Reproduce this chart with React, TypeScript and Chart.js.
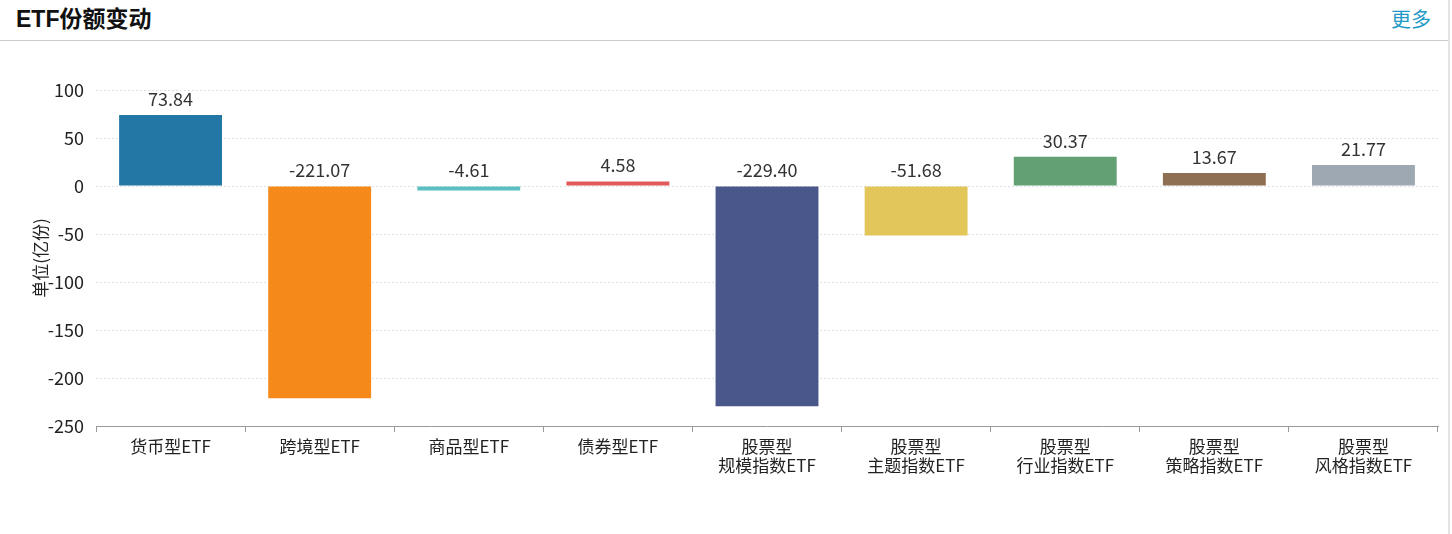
import React, { useEffect, useRef } from "react";
import { Chart, registerables } from "chart.js";

Chart.register(...registerables);

const categories: (string | string[])[] = [
  "货币型ETF",
  "跨境型ETF",
  "商品型ETF",
  "债券型ETF",
  ["股票型", "规模指数ETF"],
  ["股票型", "主题指数ETF"],
  ["股票型", "行业指数ETF"],
  ["股票型", "策略指数ETF"],
  ["股票型", "风格指数ETF"],
];
const values: number[] = [73.84, -221.07, -4.61, 4.58, -229.4, -51.68, 30.37, 13.67, 21.77];
const barColors: string[] = [
  "#2277a4",
  "#f5891a",
  "#5bbfc2",
  "#e05a5a",
  "#4a578a",
  "#e3c65a",
  "#63a174",
  "#8f6f54",
  "#9ea8b3",
];
const yMin = -250;
const yMax = 100;
const yStep = 50;
const yTitle = "单位(亿份)";
const titleText = "ETF份额变动";
const moreText = "更多";

const FONT = "'Noto Sans CJK SC', 'Microsoft YaHei', sans-serif";
const TITLE_FONT = "'Liberation Sans', 'Noto Sans CJK SC', sans-serif";

const valueLabelPlugin = {
  id: "valueLabels",
  afterDatasetsDraw(chart: any) {
    const ctx = chart.ctx;
    const meta = chart.getDatasetMeta(0);
    const base = chart.scales.y.getPixelForValue(0);
    ctx.save();
    ctx.font = `18px ${FONT}`;
    ctx.fillStyle = "#333";
    ctx.textAlign = "center";
    ctx.textBaseline = "middle";
    meta.data.forEach((bar: any, i: number) => {
      const top = Math.min(bar.y, base);
      ctx.fillText(values[i].toFixed(2), bar.x, top - 16);
    });
    ctx.restore();
  },
};

export default function App() {
  const canvasRef = useRef<HTMLCanvasElement>(null);

  useEffect(() => {
    const canvas = canvasRef.current;
    if (!canvas) return;
    const chart = new Chart(canvas, {
      type: "bar",
      data: {
        labels: categories,
        datasets: [
          {
            data: values,
            backgroundColor: barColors,
            borderWidth: 0,
            barPercentage: 0.69,
            categoryPercentage: 1,
          },
        ],
      },
      options: {
        responsive: false,
        animation: false,
        layout: { padding: { top: 48, right: 14, bottom: 0, left: 0 } },
        plugins: {
          legend: { display: false },
          tooltip: { enabled: false },
        },
        scales: {
          x: {
            offset: true,
            grid: {
              offset: true,
              drawOnChartArea: false,
              drawTicks: true,
              tickLength: 6,
              color: "#999",
            },
            border: { display: true, color: "#999", width: 1 },
            ticks: {
              color: "#222",
              padding: 5,
              maxRotation: 0,
              autoSkip: false,
              font: { size: 17, family: FONT, lineHeight: 1.13 },
            },
            afterFit(scale: any) {
              scale.height = 108;
            },
          },
          y: {
            min: yMin,
            max: yMax,
            ticks: {
              stepSize: yStep,
              color: "#222",
              padding: 12,
              font: { size: 18, family: FONT },
            },
            grid: {
              drawTicks: false,
              color: "#dde1e8",
              lineWidth: 1,
            },
            border: { display: false, dash: [2, 2] },
            title: {
              display: true,
              text: yTitle,
              color: "#222",
              font: { size: 17, family: FONT },
              padding: { top: 30, bottom: 4 },
            },
            afterFit(scale: any) {
              scale.width = 96;
            },
          },
        },
      },
      plugins: [valueLabelPlugin],
    });
    return () => chart.destroy();
  }, []);

  return (
    <div
      style={{
        position: "fixed",
        left: 0,
        top: 0,
        width: 1452,
        height: 534,
        background: "#fff",
        overflow: "hidden",
        fontFamily: FONT,
      }}
    >
      <div
        style={{
          position: "absolute",
          left: 16,
          top: 4,
          height: 30,
          lineHeight: "30px",
          fontSize: 23,
          fontWeight: "bold",
          fontFamily: TITLE_FONT,
          color: "#111",
        }}
      >
        {titleText}
      </div>
      <div
        style={{
          position: "absolute",
          left: 1391,
          top: 4,
          height: 30,
          lineHeight: "30px",
          fontSize: 20,
          color: "#1f9ac6",
        }}
      >
        {moreText}
      </div>
      <div
        style={{
          position: "absolute",
          left: 0,
          top: 40,
          width: 1448,
          height: 1,
          background: "#cccccc",
        }}
      />
      <div
        style={{
          position: "absolute",
          left: 1448,
          top: 0,
          width: 2,
          height: 534,
          background: "#e3e3e3",
        }}
      />
      <canvas
        ref={canvasRef}
        width={1452}
        height={492}
        style={{ position: "absolute", left: 0, top: 42, width: 1452, height: 492 }}
      />
    </div>
  );
}
